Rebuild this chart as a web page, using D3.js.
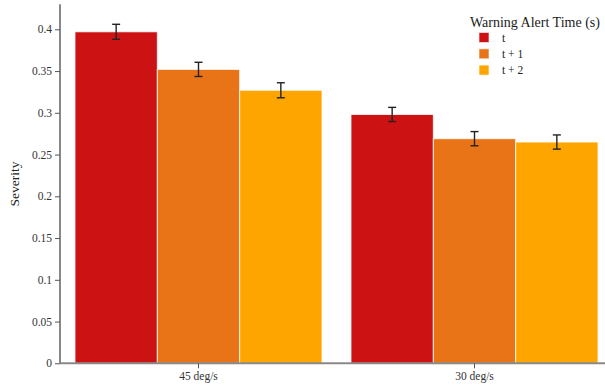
<!DOCTYPE html>
<html>
<head>
<meta charset="utf-8">
<script src="https://cdn.jsdelivr.net/npm/d3@7"></script>
<style>
  html, body { margin: 0; padding: 0; background: #fff; }
  svg { display: block; }
  svg text { font-family: "Liberation Serif", "DejaVu Serif", serif; }
</style>
</head>
<body>
<svg id="chart" width="605" height="390"></svg>
<script>
// Angular velocity conditions
const categories = ["45 deg/s", "30 deg/s"];
// Warning alert timing series
const seriesNames = ["t", "t + 1", "t + 2"];
const seriesColors = ["#cd1214", "#e97418", "#ffa500"];
// Mean severity per series, one value per category
const severityT  = [0.397, 0.298];
const severityT1 = [0.352, 0.269];
const severityT2 = [0.327, 0.265];
// Standard error per series
const errorT  = [0.009, 0.0085];
const errorT1 = [0.0085, 0.0085];
const errorT2 = [0.009, 0.0085];
const yTicks = [0, 0.05, 0.1, 0.15, 0.2, 0.25, 0.3, 0.35, 0.4];

const seriesValues = [severityT, severityT1, severityT2];
const seriesErrors = [errorT, errorT1, errorT2];

const rows = [];
categories.forEach((c, ci) => {
  seriesNames.forEach((s, si) => {
    rows.push({ category: c, series: s, value: seriesValues[si][ci], err: seriesErrors[si][ci], color: seriesColors[si] });
  });
});

const svg = d3.select("#chart");
const left = 60, bottom = 363.3;

const x0 = d3.scaleBand().domain(categories).range([left, 613]).paddingInner(0.105).paddingOuter(0.0543);
const x1 = d3.scaleBand().domain(seriesNames).range([0, x0.bandwidth()]).padding(0);
const y = d3.scaleLinear().domain([0, 0.43]).range([bottom, bottom - 0.43 * 835]);

// Bars
svg.append("g").selectAll("rect").data(rows).join("rect")
  .attr("x", d => x0(d.category) + x1(d.series))
  .attr("y", d => y(d.value))
  .attr("width", x1.bandwidth())
  .attr("height", d => y(0) - y(d.value))
  .attr("fill", d => d.color)
  .attr("stroke", "#fff")
  .attr("stroke-opacity", 0.8)
  .attr("stroke-width", 1);

// Error bars
const eg = svg.append("g").attr("stroke", "#222").attr("stroke-width", 1.4);
rows.forEach(d => {
  const cx = x0(d.category) + x1(d.series) + x1.bandwidth() / 2;
  const yt = y(d.value + d.err), yb = y(d.value - d.err);
  eg.append("line").attr("x1", cx).attr("x2", cx).attr("y1", yt).attr("y2", yb);
  eg.append("line").attr("x1", cx - 4).attr("x2", cx + 4).attr("y1", yt).attr("y2", yt);
  eg.append("line").attr("x1", cx - 4).attr("x2", cx + 4).attr("y1", yb).attr("y2", yb);
});

// Y axis
const yAxis = svg.append("g").attr("transform", `translate(${left},0)`)
  .call(d3.axisLeft(y).tickValues(yTicks).tickFormat(d => d3.format("")(d)).tickSize(5).tickPadding(3));
yAxis.attr("font-family", null);
yAxis.select(".domain").attr("stroke", "#888").attr("stroke-width", 2).attr("d", `M0,${y.range()[1]}V${bottom}`);
yAxis.selectAll(".tick line").attr("stroke", "#555");
yAxis.selectAll("text").attr("font-size", 11.5).attr("fill", "#333");

// X axis
const xAxis = svg.append("g").attr("transform", `translate(0,${bottom})`)
  .call(d3.axisBottom(x0).tickSize(5).tickPadding(4));
xAxis.attr("font-family", null);
xAxis.select(".domain").attr("stroke", "#888").attr("stroke-width", 2).attr("d", `M${left},0H613`);
xAxis.selectAll(".tick line").attr("stroke", "#555");
xAxis.selectAll("text").attr("font-size", 11.5).attr("fill", "#333");

// Y axis title
svg.append("text")
  .attr("transform", "translate(19,184) rotate(-90)")
  .attr("text-anchor", "middle")
  .attr("font-size", 13.5)
  .attr("fill", "#222")
  .text("Severity");

// Legend
const legend = svg.append("g");
legend.append("text").attr("x", 470).attr("y", 27).attr("font-size", 14).attr("fill", "#222").text("Warning Alert Time (s)");
seriesNames.forEach((s, i) => {
  const cy = 37.5 + i * 16.3;
  legend.append("rect").attr("x", 479).attr("y", cy - 5).attr("width", 10).attr("height", 10)
    .attr("fill", seriesColors[i]).attr("stroke", "#fff").attr("stroke-opacity", 0.6);
  legend.append("text").attr("x", 502).attr("y", cy + 4).attr("font-size", 11.5).attr("fill", "#222").text(s);
});
</script>
</body>
</html>
